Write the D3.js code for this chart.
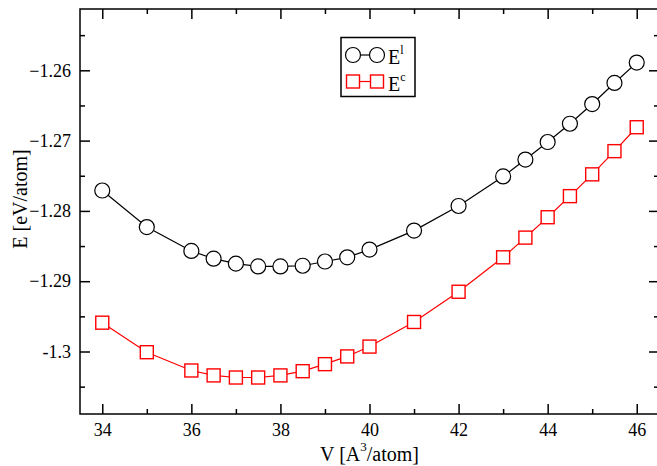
<!DOCTYPE html>
<html>
<head>
<meta charset="utf-8">
<script src="https://cdn.jsdelivr.net/npm/d3@7"></script>
<style>
  body { margin: 0; background: #fff; }
  svg { display: block; }
  text { font-family: "Liberation Serif", "DejaVu Serif", serif; }
</style>
</head>
<body>
<div id="chart"></div>
<script>
// volumes (A^3/atom)
const volumes = [34, 35, 36, 36.5, 37, 37.5, 38, 38.5, 39, 39.5, 40, 41, 42, 43, 43.5, 44, 44.5, 45, 45.5, 46]
// energies (eV/atom)
const energyL = [-1.2771, -1.2823, -1.2857, -1.2868, -1.2875, -1.2879, -1.2879, -1.2878, -1.2872, -1.2866, -1.2855,
                 -1.2828, -1.2793, -1.2751, -1.2727, -1.2702, -1.2676, -1.2648, -1.2618, -1.2589]
const energyC = [-1.2959, -1.3001, -1.3027, -1.3034, -1.3037, -1.3037, -1.3034, -1.3028, -1.3018, -1.3007, -1.2993,
                 -1.2958, -1.2915, -1.2866, -1.2838, -1.2809, -1.2779, -1.2748, -1.2715, -1.2681]
const xTicks = [34, 36, 38, 40, 42, 44, 46]
const xMinor = [35, 37, 39, 41, 43, 45]
const yTicks = [-1.26, -1.27, -1.28, -1.29, -1.3]
const yMinor = [-1.255, -1.265, -1.275, -1.285, -1.295, -1.305]

const width = 657, height = 466
const padL = 80, padR = 659, padT = 9, padB = 414

const xScale = d3.scaleLinear().domain([33.5, 46.5]).range([padL, padR])
const yScale = d3.scaleLinear().domain([-1.30889, -1.25128]).range([padB, padT])

const svg = d3.select("#chart").append("svg")
              .attr("width", width)
              .attr("height", height)

const fmtY = d => d === -1.3 ? "-1.3" : d3.format(".2f")(d)

// axes, ticks pointing inward
const axes = [
  {axis: d3.axisBottom(xScale).tickValues(xTicks).tickFormat(d3.format("d")), t: `translate(0,${padB})`, size: 10},
  {axis: d3.axisBottom(xScale).tickValues(xMinor).tickFormat(""), t: `translate(0,${padB})`, size: 5},
  {axis: d3.axisTop(xScale).tickValues(xTicks).tickFormat(""), t: `translate(0,${padT})`, size: 10},
  {axis: d3.axisTop(xScale).tickValues(xMinor).tickFormat(""), t: `translate(0,${padT})`, size: 5},
  {axis: d3.axisLeft(yScale).tickValues(yTicks).tickFormat(fmtY), t: `translate(${padL},0)`, size: 10},
  {axis: d3.axisLeft(yScale).tickValues(yMinor).tickFormat(""), t: `translate(${padL},0)`, size: 5},
  {axis: d3.axisRight(yScale).tickValues(yTicks).tickFormat(""), t: `translate(${padR},0)`, size: 10},
  {axis: d3.axisRight(yScale).tickValues(yMinor).tickFormat(""), t: `translate(${padR},0)`, size: 5}
]
axes.forEach(a => {
  const g = svg.append("g")
     .attr("transform", a.t)
     .call(a.axis.tickSizeInner(-a.size).tickSizeOuter(0).tickPadding(9))
  g.select(".domain").remove()
  g.selectAll(".tick line").attr("stroke", "#000").attr("stroke-width", 1.5)
  g.selectAll(".tick text").attr("font-size", 18).attr("fill", "#000")
   .attr("font-family", "Liberation Serif")
})

svg.append("rect")
   .attr("x", padL).attr("y", padT)
   .attr("width", padR - padL).attr("height", padB - padT)
   .attr("fill", "none").attr("stroke", "#000").attr("stroke-width", 1.5)

// series
const line = d3.line().x(d => xScale(d[0])).y(d => yScale(d[1]))
const dataL = volumes.map((v, i) => [v, energyL[i]])
const dataC = volumes.map((v, i) => [v, energyC[i]])

svg.append("path").datum(dataL).attr("d", line)
   .attr("fill", "none").attr("stroke", "#000").attr("stroke-width", 1.2)
svg.selectAll(".ptL").data(dataL).enter().append("circle")
   .attr("cx", d => xScale(d[0])).attr("cy", d => yScale(d[1])).attr("r", 7.5)
   .attr("fill", "#fff").attr("stroke", "#000").attr("stroke-width", 1.2)

svg.append("path").datum(dataC).attr("d", line)
   .attr("fill", "none").attr("stroke", "#ff0000").attr("stroke-width", 1.2)
svg.selectAll(".ptC").data(dataC).enter().append("rect")
   .attr("x", d => xScale(d[0]) - 6.5).attr("y", d => yScale(d[1]) - 6.5)
   .attr("width", 13).attr("height", 13)
   .attr("fill", "#fff").attr("stroke", "#ff0000").attr("stroke-width", 1.4)

// axis titles
svg.append("text")
   .attr("transform", `translate(27,199) rotate(-90)`)
   .attr("text-anchor", "middle").attr("font-size", 20)
   .text("E [eV/atom]")

const xt = svg.append("text")
   .attr("x", xScale(40)).attr("y", 461)
   .attr("text-anchor", "middle").attr("font-size", 20)
xt.append("tspan").text("V [A")
xt.append("tspan").attr("font-size", 13).attr("dy", -10).text("3")
xt.append("tspan").attr("dy", 10).text("/atom]")

// legend
const lg = svg.append("g")
lg.append("rect").attr("x", 341).attr("y", 37.5).attr("width", 74).attr("height", 59)
  .attr("fill", "#fff").attr("stroke", "#000").attr("stroke-width", 1.5)
const legend = [
  {name: "l", y: 55, color: "#000", shape: "circle"},
  {name: "c", y: 81.5, color: "#ff0000", shape: "square"}
]
legend.forEach(l => {
  lg.append("line").attr("x1", 353).attr("x2", 377).attr("y1", l.y).attr("y2", l.y)
    .attr("stroke", l.color).attr("stroke-width", 1.2)
  ;[353, 377].forEach(cx => {
    if (l.shape === "circle") {
      lg.append("circle").attr("cx", cx).attr("cy", l.y).attr("r", 7.5)
        .attr("fill", "#fff").attr("stroke", l.color).attr("stroke-width", 1.2)
    } else {
      lg.append("rect").attr("x", cx - 6.5).attr("y", l.y - 6.5).attr("width", 13).attr("height", 13)
        .attr("fill", "#fff").attr("stroke", l.color).attr("stroke-width", 1.4)
    }
  })
  const t = lg.append("text").attr("x", 388).attr("y", l.y + 9).attr("font-size", 20)
  t.append("tspan").text("E")
  t.append("tspan").attr("font-size", 12).attr("dy", -10).text(l.name)
})
</script>
</body>
</html>
